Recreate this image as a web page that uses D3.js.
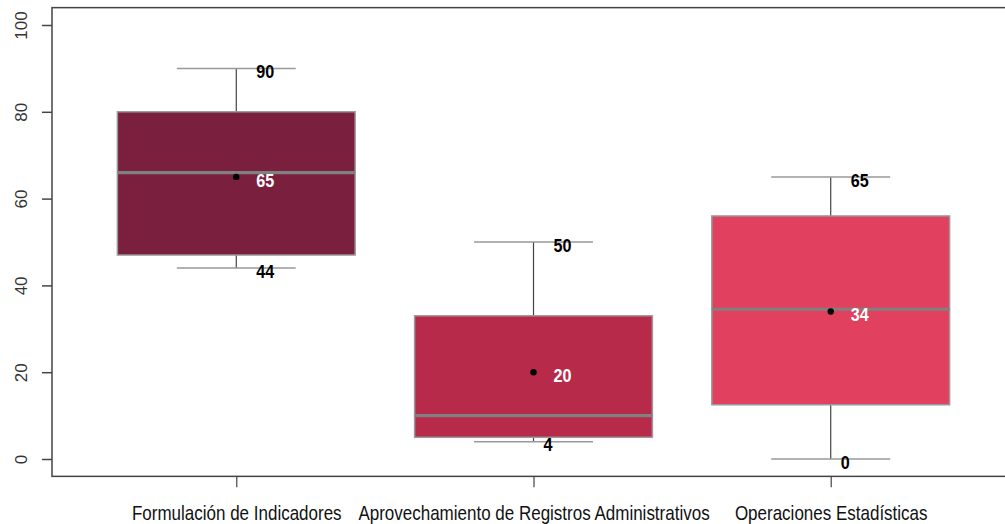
<!DOCTYPE html>
<html>
<head>
<meta charset="utf-8">
<script src="https://cdn.jsdelivr.net/npm/d3@7"></script>
<style>
  html, body { margin: 0; padding: 0; background: #fff; overflow: hidden; }
  svg { display: block; }
</style>
</head>
<body>
<svg id="chart" width="1005" height="524"></svg>
<script>
// ---- data ----
const categories = ["Formulación de Indicadores", "Aprovechamiento de Registros Administrativos", "Operaciones Estadísticas"];
const whiskerLow  = [44, 4, 0];
const q1          = [47, 5, 12.5];
const medians     = [66, 10, 34.5];
const q3          = [80, 33, 56];
const whiskerHigh = [90, 50, 65];
const means       = [65, 20, 34];
const boxColors   = ["#7b1f3f", "#b72a4a", "#e1405e"];
const yTicks      = [0, 20, 40, 60, 80, 100];

const svg = d3.select("#chart");

// R-like scales with 4% padding
const x = d3.scaleLinear().domain([0.38, 3.62]).range([52, 1015]);
const y = d3.scaleLinear().domain([0, 100]).range([459, 25]);

const sans = "'Liberation Sans', Arial, sans-serif";
const squeeze = 0.85;

const data = categories.map((c, i) => ({
  cat: c, i: i + 1,
  lo: whiskerLow[i], q1: q1[i], med: medians[i], q3: q3[i], hi: whiskerHigh[i],
  mean: means[i], color: boxColors[i]
}));

const g = svg.append("g");

// whiskers (vertical)
g.selectAll(".wh-up").data(data).join("line")
  .attr("x1", d => x(d.i)).attr("x2", d => x(d.i))
  .attr("y1", d => y(d.q3)).attr("y2", d => y(d.hi))
  .attr("stroke", "#444").attr("stroke-width", 1.2);
g.selectAll(".wh-lo").data(data).join("line")
  .attr("x1", d => x(d.i)).attr("x2", d => x(d.i))
  .attr("y1", d => y(d.q1)).attr("y2", d => y(d.lo))
  .attr("stroke", "#444").attr("stroke-width", 1.2);

// caps
const capHalf = 0.2;
["hi", "lo"].forEach(k => {
  g.selectAll(".cap-" + k).data(data).join("line")
    .attr("x1", d => x(d.i - capHalf)).attr("x2", d => x(d.i + capHalf))
    .attr("y1", d => y(d[k])).attr("y2", d => y(d[k]))
    .attr("stroke", "#999").attr("stroke-width", 1.5);
});

// boxes
const boxHalf = 0.4;
g.selectAll(".box").data(data).join("rect")
  .attr("x", d => x(d.i - boxHalf))
  .attr("width", d => x(d.i + boxHalf) - x(d.i - boxHalf))
  .attr("y", d => y(d.q3))
  .attr("height", d => y(d.q1) - y(d.q3))
  .attr("fill", d => d.color)
  .attr("stroke", "#9a9a9a").attr("stroke-width", 1.5);

// medians
g.selectAll(".med").data(data).join("line")
  .attr("x1", d => x(d.i - boxHalf)).attr("x2", d => x(d.i + boxHalf))
  .attr("y1", d => y(d.med)).attr("y2", d => y(d.med))
  .attr("stroke", "#808080").attr("stroke-width", 3.2);

// mean points
g.selectAll(".mean").data(data).join("circle")
  .attr("cx", d => x(d.i)).attr("cy", d => y(d.mean)).attr("r", 3.2)
  .attr("fill", "#000");

// value labels
const labels = [];
data.forEach(d => {
  labels.push({ i: d.i, v: d.hi, fill: "#000" });
  labels.push({ i: d.i, v: d.mean, fill: "#fff" });
  labels.push({ i: d.i, v: d.lo, fill: "#000" });
});
g.selectAll(".vlab").data(labels).join("text")
  .attr("transform", d => `translate(${x(d.i) + 14.5 * String(d.v).length},${y(d.v) + 3}) scale(${squeeze},1)`)
  .attr("dy", "0.36em")
  .attr("text-anchor", "middle")
  .attr("font-family", sans)
  .attr("font-weight", "bold")
  .attr("font-size", 19)
  .attr("fill", d => d.fill)
  .text(d => d.v);

// frame
svg.append("rect")
  .attr("x", x(0.38)).attr("y", y(104))
  .attr("width", x(3.62) - x(0.38)).attr("height", y(-4) - y(104))
  .attr("fill", "none").attr("stroke", "#444").attr("stroke-width", 1.5);

// y axis
const yAxis = d3.axisLeft(y).tickValues(yTicks).tickSize(10).tickFormat(d3.format("d"));
const ya = svg.append("g").attr("transform", `translate(${x(0.38)},0)`).call(yAxis);
ya.select(".domain").remove();
ya.selectAll(".tick line").attr("stroke", "#444").attr("stroke-width", 1.5);
ya.selectAll(".tick text")
  .attr("x", 0).attr("dy", 0)
  .attr("transform", "translate(-31,0) rotate(-90)")
  .attr("text-anchor", "middle")
  .attr("dominant-baseline", "central")
  .attr("font-family", sans)
  .attr("font-size", 17)
  .attr("fill", "#333");

// x axis
const xAxis = d3.axisBottom(x).tickValues([1, 2, 3]).tickSize(11).tickFormat(d => categories[d - 1]);
const xa = svg.append("g").attr("transform", `translate(0,${y(-4)})`).call(xAxis);
xa.select(".domain").remove();
xa.selectAll(".tick line").attr("stroke", "#444").attr("stroke-width", 1.2);
xa.selectAll(".tick text")
  .attr("x", 0).attr("y", 0).attr("dy", 0)
  .attr("transform", `translate(0,44) scale(${squeeze},1)`)
  .attr("text-anchor", "middle")
  .attr("font-family", sans)
  .attr("font-size", 20)
  .attr("fill", "#111");
</script>
</body>
</html>
